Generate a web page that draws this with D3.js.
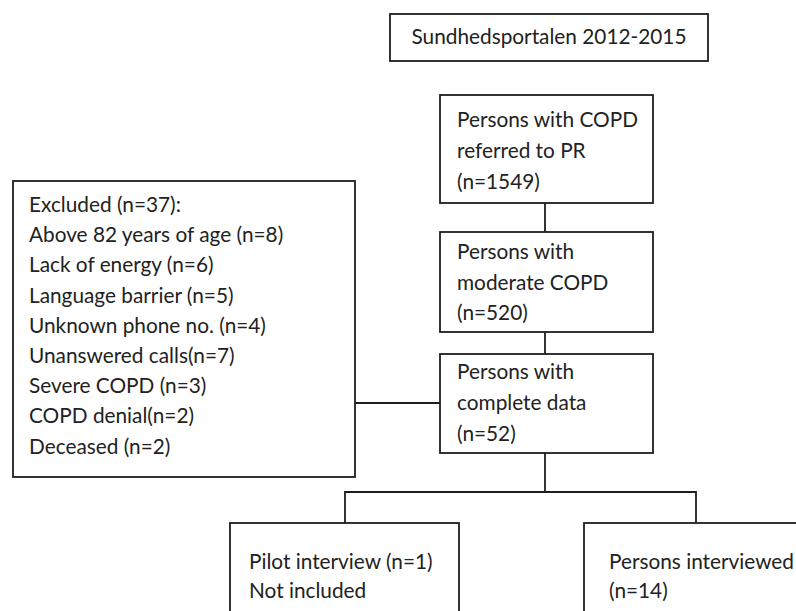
<!DOCTYPE html>
<html>
<head>
<meta charset="utf-8">
<script src="https://cdn.jsdelivr.net/npm/d3@7"></script>
<style>
    body { margin: 0; background: #fff; }
    svg text { font-family: Lato, "Open Sans", sans-serif; fill: #222; }
</style>
</head>
<body>
<div id="chart"></div>
<script>
// flowchart text, one array per box
const titleLines = ['Sundhedsportalen 2012-2015'];
const referredLines = ['Persons with COPD', 'referred to PR', '(n=1549)'];
const moderateLines = ['Persons with', 'moderate COPD', '(n=520)'];
const completeLines = ['Persons with', 'complete data', '(n=52)'];
const excludedLines = [
    'Excluded (n=37):',
    'Above 82 years of age (n=8)',
    'Lack of energy (n=6)',
    'Language barrier (n=5)',
    'Unknown phone no. (n=4)',
    'Unanswered calls(n=7)',
    'Severe COPD (n=3)',
    'COPD denial(n=2)',
    'Deceased (n=2)'
];
const pilotLines = ['Pilot interview (n=1)', 'Not included'];
const interviewedLines = ['Persons interviewed', '(n=14)'];

const svgWidth = 796;
const svgHeight = 611;

const svg = d3.select('#chart')
    .append('svg')
    .attr('width', svgWidth)
    .attr('height', svgHeight);

const fontSize = 20.8;

// box layout: x, y, w, h, first baseline, line step, text inset, centred?
const boxes = [
    {lines: titleLines, x: 390, y: 14, w: 318, h: 47, base: 44, step: 0, pad: 0, center: true},
    {lines: referredLines, x: 440, y: 95, w: 213, h: 108, base: 127, step: 31, pad: 17},
    {lines: moderateLines, x: 440, y: 232, w: 213, h: 100, base: 259, step: 30.5, pad: 17},
    {lines: completeLines, x: 440, y: 354, w: 213, h: 99, base: 379, step: 31, pad: 17},
    {lines: excludedLines, x: 13, y: 181, w: 342, h: 296, base: 212, step: 30.2, pad: 16},
    {lines: pilotLines, x: 230, y: 523, w: 229, h: 100, base: 569, step: 29, pad: 19},
    {lines: interviewedLines, x: 584, y: 523, w: 230, h: 100, base: 569, step: 29, pad: 25}
];

const g = svg.append('g');

const box = g.selectAll('g.box')
    .data(boxes)
    .join('g')
    .attr('class', 'box');

box.append('rect')
    .attr('x', d => d.x)
    .attr('y', d => d.y)
    .attr('width', d => d.w)
    .attr('height', d => d.h)
    .attr('fill', 'none')
    .attr('stroke', '#1e1e1e')
    .attr('stroke-width', 1.8);

box.each(function (d) {
    d3.select(this).selectAll('text')
        .data(d.lines)
        .join('text')
        .attr('x', d.center ? d.x + d.w / 2 : d.x + d.pad)
        .attr('y', (t, i) => d.base + i * d.step)
        .attr('text-anchor', d.center ? 'middle' : 'start')
        .style('font-size', fontSize + 'px')
        .text(t => t);
});

// connectors
const midX = 545;
const connectors = [
    [[midX, 203], [midX, 232]],
    [[midX, 332], [midX, 354]],
    [[355, 403], [440, 403]],
    [[midX, 453], [midX, 492]],
    [[345, 523], [345, 492], [696, 492], [696, 523]]
];

g.selectAll('path.link')
    .data(connectors)
    .join('path')
    .attr('class', 'link')
    .attr('d', d3.line())
    .attr('fill', 'none')
    .attr('stroke', '#1e1e1e')
    .attr('stroke-width', 1.8);
</script>
</body>
</html>
